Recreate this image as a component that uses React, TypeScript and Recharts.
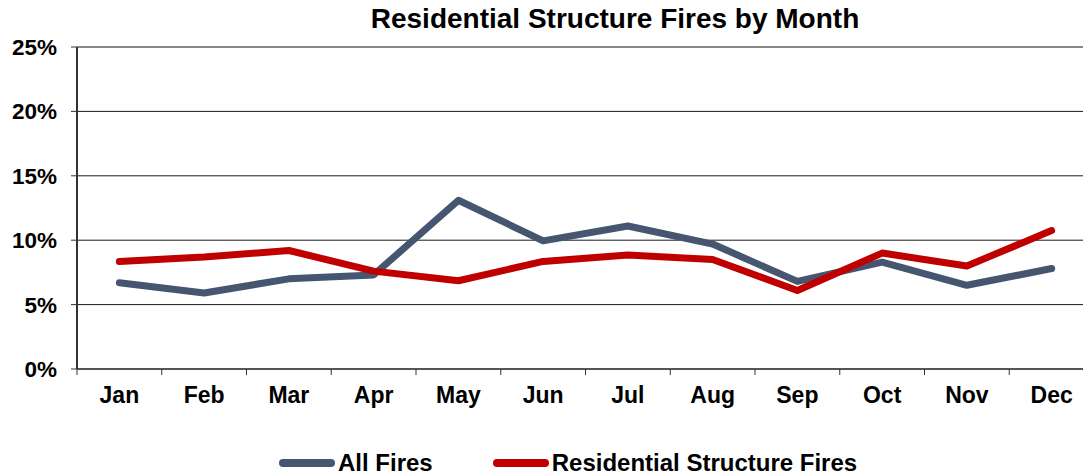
import { LineChart, Line, CartesianGrid, XAxis, YAxis, ReferenceLine } from 'recharts'

const months = ['Jan', 'Feb', 'Mar', 'Apr', 'May', 'Jun', 'Jul', 'Aug', 'Sep', 'Oct', 'Nov', 'Dec']
const allFires = [6.7, 5.9, 7.0, 7.3, 13.1, 9.95, 11.1, 9.7, 6.8, 8.3, 6.5, 7.8]
const residentialFires = [8.35, 8.7, 9.2, 7.6, 6.85, 8.35, 8.85, 8.5, 6.1, 9.0, 8.0, 10.75]
const yTicks = [0, 5, 10, 15, 20, 25]

const data = months.map((m, i) => ({ month: m, all: allFires[i], res: residentialFires[i] }))

const CHART_W = 1100
const MARGIN_R = 6
const AXIS_W = 77
const BAND = (CHART_W - MARGIN_R - AXIS_W) / months.length

const GREY = '#465670'
const RED = '#C00000'
const FONT = '"Liberation Sans", Arial, sans-serif'

function MonthTick({ x, y, payload }: any) {
  const left = x - BAND / 2
  return (
    <g>
      <line x1={left} x2={left} y1={y - 8} y2={y - 2} stroke="#333" strokeWidth={1} />
      <text x={x} y={y + 26} textAnchor="middle" fontSize={23} fontWeight="bold" fill="#000" fontFamily={FONT}>
        {payload.value}
      </text>
    </g>
  )
}

function LegendItem({ color, label }: { color: string; label: string }) {
  return (
    <div style={{ display: 'flex', alignItems: 'center' }}>
      <span style={{ display: 'inline-block', width: 56, height: 8, borderRadius: 4, background: color, marginRight: 3 }} />
      <span style={{ fontSize: 24, fontWeight: 'bold', lineHeight: '28px' }}>{label}</span>
    </div>
  )
}

export default function App() {
  return (
    <div style={{ position: 'absolute', top: 0, left: 0, width: 1083, height: 476, overflow: 'hidden', background: '#fff', fontFamily: FONT }}>
      <div style={{ position: 'absolute', top: 3, left: 615, transform: 'translateX(-50%)', whiteSpace: 'nowrap', fontSize: 28, fontWeight: 'bold', lineHeight: '32px' }}>
        Residential Structure Fires by Month
      </div>
      <LineChart width={CHART_W} height={476} data={data} margin={{ top: 47, right: MARGIN_R, left: 0, bottom: 77 }}>
        <CartesianGrid horizontal vertical={false} stroke="#1a1a1a" strokeWidth={1} />
        <ReferenceLine y={25} stroke="#888" strokeWidth={2} />
        <XAxis
          dataKey="month"
          height={30}
          padding={{ left: BAND / 2, right: BAND / 2 }}
          axisLine={{ stroke: '#555', strokeWidth: 2 }}
          tickLine={false}
          interval={0}
          tick={<MonthTick />}
        />
        <YAxis
          width={AXIS_W}
          domain={[0, 25]}
          ticks={yTicks}
          tickFormatter={v => `${v}%`}
          axisLine={{ stroke: '#333', strokeWidth: 2 }}
          tickLine={{ stroke: '#333' }}
          tickSize={6}
          tickMargin={14}
          tick={{ fontSize: 22.5, fontWeight: 'bold', fill: '#000', fontFamily: FONT }}
        />
        <Line dataKey="all" stroke={GREY} strokeWidth={7} strokeLinecap="round" strokeLinejoin="round" dot={false} isAnimationActive={false} />
        <Line dataKey="res" stroke={RED} strokeWidth={7} strokeLinecap="round" strokeLinejoin="round" dot={false} isAnimationActive={false} />
      </LineChart>
      <div style={{ position: 'absolute', top: 449, left: 279, display: 'flex', gap: 60 }}>
        <LegendItem color={GREY} label="All Fires" />
        <LegendItem color={RED} label="Residential Structure Fires" />
      </div>
    </div>
  )
}
